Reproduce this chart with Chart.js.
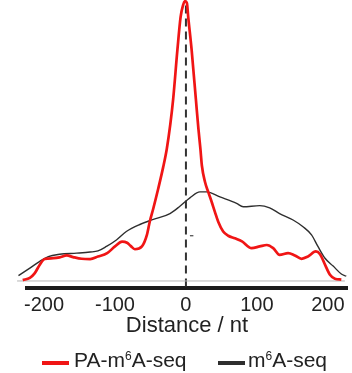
<!DOCTYPE html>
<html>
<head>
<meta charset="utf-8">
<script src="https://cdn.jsdelivr.net/npm/chart.js@4/dist/chart.umd.min.js"></script>
<style>
  html, body { margin: 0; padding: 0; background: #fff; }
  #wrap { position: relative; width: 352px; height: 373px; }
  .legend { position: absolute; left: 0; top: 348px; width: 352px; height: 24px;
            font: 21px 'Liberation Sans', Arial, sans-serif; color: #222; white-space: nowrap; }
  .legend span { position: absolute; top: 0; line-height: 24px; }
  .legend i { position: absolute; top: 13px; width: 27px; height: 4px; }
  .legend sup { font-size: 12px; vertical-align: 0; position: relative; top: -7px; }
</style>
</head>
<body>
<div id="wrap">
  <canvas id="charts"></canvas>
  <div class="legend" id="legend"></div>
</div>
<script>
// distance from site (nt) and relative read density
var paDist = [-230, -220, -213, -206, -199, -187, -178, -168, -159, -147, -135, -124, -111, -100, -90, -83, -78, -72, -62, -55, -51, -46, -39, -32, -27, -22, -18, -12, -7.5, -4, -1.4, 1.4, 3.2, 8, 14, 17.6, 20.4, 22.5, 26.8, 31.4, 36.2, 40.8, 45.5, 52.5, 59.6, 69, 79, 92.5, 104, 114, 123, 132, 144, 153.5, 163, 172, 183, 189, 196, 203, 210, 219];
var paVal = [0.3, 1.1, 2.8, 5.8, 7.8, 8.1, 8.4, 9.1, 8.5, 7.9, 7.8, 8.7, 9.9, 12.3, 14.0, 13.6, 12.5, 11.3, 12.3, 16.4, 21.1, 25.8, 32.9, 40.6, 47, 55.8, 64.7, 82.3, 94, 98.2, 99.6, 98.9, 94, 82.3, 64.7, 54.1, 47, 41, 35.3, 31.7, 28.2, 24.6, 21.1, 17.6, 16.1, 15.2, 14.1, 11.7, 12.3, 12.8, 11.7, 9.3, 9.9, 9.1, 7.9, 8.7, 10.5, 9.5, 5.8, 2.2, 0.8, 0.5];

var mDist = [-236, -220, -206, -194, -178, -154, -135, -124, -112, -98, -84, -65, -46, -22.5, -8.5, 5.6, 19.7, 29.2, 47.9, 71.4, 80.7, 104, 118, 132, 151, 165, 177, 186, 196, 207.5, 219, 226];
var mVal = [1.9, 4.6, 7.0, 8.7, 9.5, 9.9, 10.3, 10.7, 12.3, 14.6, 17.6, 20.1, 21.9, 24.0, 26.6, 29.6, 31.7, 31.7, 29.9, 27.6, 26.4, 26.8, 26.0, 24.0, 21.7, 19.3, 16.4, 12.3, 8.1, 5.3, 2.5, 1.7];

var xTicks = [-200, -100, 0, 100, 200];

var seriesNames = ['PA-m<sup>6</sup>A-seq', 'm<sup>6</sup>A-seq'];
var seriesColors = ['#f01515', '#2e2e2e'];

function pts(xs, ys) {
    return xs.map(function (x, i) { return { x: x, y: ys[i] }; });
}

var ctx = document.getElementById("charts");
new Chart(ctx, {
    type: 'line',
    data: {
        datasets: [{
            label: 'PA-m6A-seq',
            data: pts(paDist, paVal),
            borderColor: seriesColors[0],
            borderWidth: 2.7,
            pointRadius: 0,
            cubicInterpolationMode: 'monotone',
            clip: false
        }, {
            label: 'm6A-seq',
            data: pts(mDist, mVal),
            borderColor: seriesColors[1],
            borderWidth: 1.4,
            pointRadius: 0,
            cubicInterpolationMode: 'monotone',
            clip: false
        }, {
            // zero line
            data: [{ x: -238, y: 0 }, { x: 224, y: 0 }],
            borderColor: '#b4b4b4',
            borderWidth: 1,
            pointRadius: 0,
            clip: false
        }, {
            // centre marker
            data: [{ x: 0, y: 98 }, { x: 0, y: -2.5 }],
            borderColor: '#333',
            borderWidth: 2,
            borderDash: [8, 5],
            pointRadius: 0,
            clip: false
        }, {
            data: [{ x: 5.6, y: 16.1 }, { x: 10.5, y: 16.1 }],
            borderColor: '#444',
            borderWidth: 1.2,
            pointRadius: 0
        }]
    },
    options: {
        responsive: true,
        maintainAspectRatio: false,
        animation: false,
        layout: { padding: { left: 27, right: 5, top: 0, bottom: 36 } },
        plugins: {
            tooltip: { enabled: false },
            legend: { display: false }
        },
        scales: {
            x: {
                type: 'linear',
                min: -224,
                max: 227,
                afterBuildTicks: function (axis) {
                    axis.ticks = xTicks.map(function (v) { return { value: v }; });
                },
                grid: { display: false },
                border: { display: true, color: '#1a1a1a', width: 4 },
                ticks: {
                    color: '#222',
                    padding: -2,
                    maxRotation: 0,
                    font: { family: "'Liberation Sans', Arial, sans-serif", size: 20, lineHeight: 1.1 }
                },
                title: {
                    display: true,
                    text: 'Distance / nt',
                    color: '#222',
                    padding: { top: 1, bottom: 0 },
                    font: { family: "'Liberation Sans', Arial, sans-serif", size: 22, lineHeight: 1.0 }
                }
            },
            y: {
                display: false,
                min: -2.5,
                max: 100
            }
        }
    }
});

// legend row under the axis title
var boxLeft = [42, 218];
var textLeft = [74, 248];
var legend = document.getElementById('legend');
seriesNames.forEach(function (name, i) {
    var box = document.createElement('i');
    box.style.left = boxLeft[i] + 'px';
    box.style.background = seriesColors[i];
    legend.appendChild(box);
    var txt = document.createElement('span');
    txt.style.left = textLeft[i] + 'px';
    txt.innerHTML = name;
    legend.appendChild(txt);
});
</script>
</body>
</html>
